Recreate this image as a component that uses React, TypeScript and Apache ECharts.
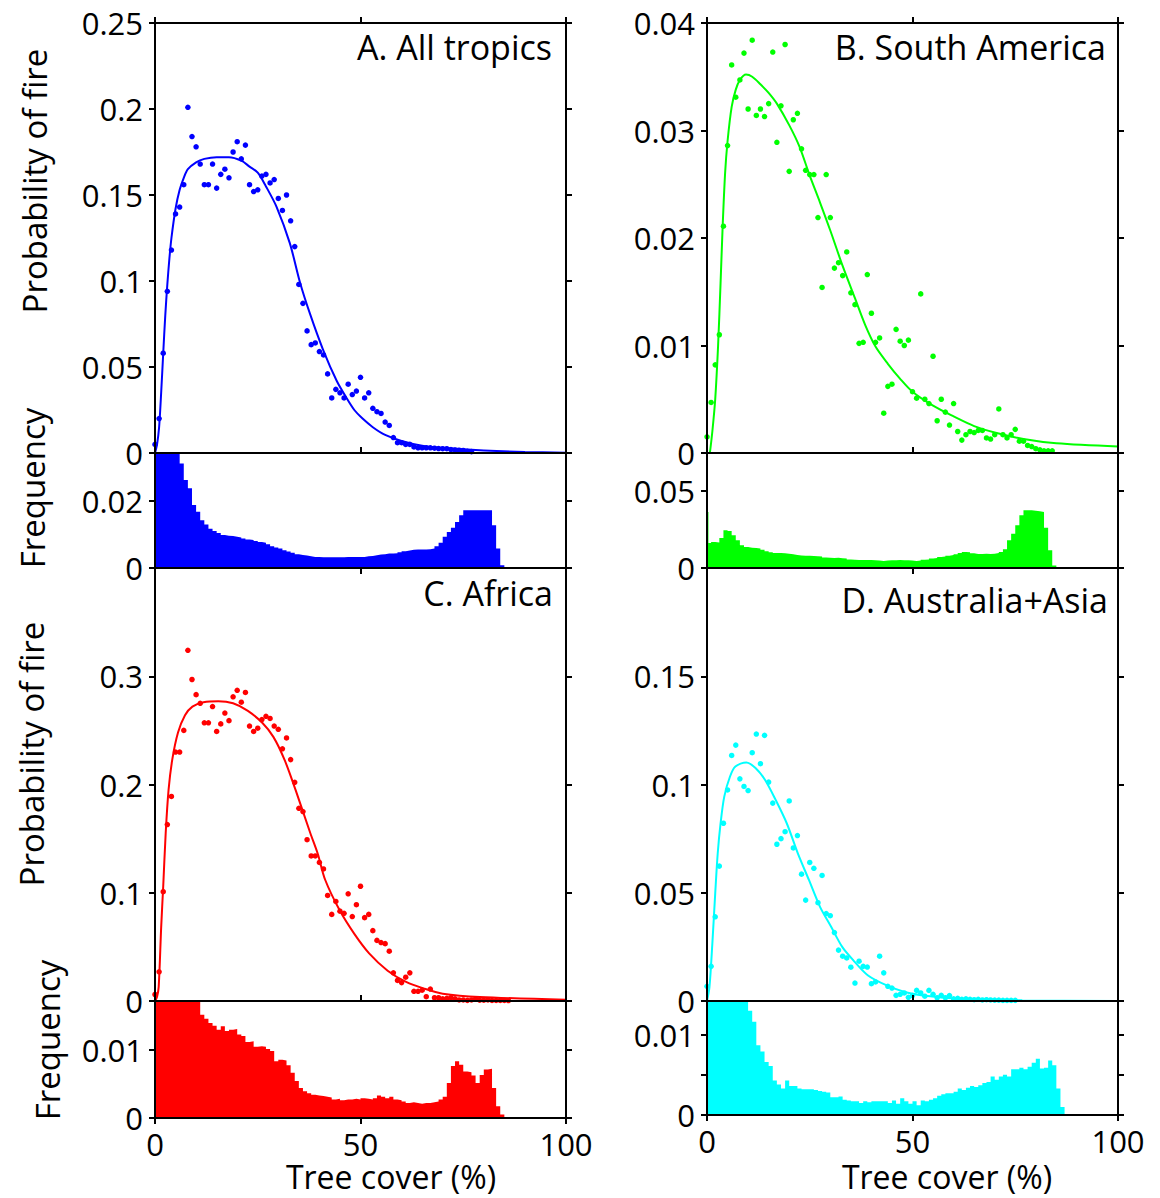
import React, { useEffect, useRef } from 'react';
import * as echarts from 'echarts';

const FONT = '"Open Sans", "Noto Sans", sans-serif';

// ---------- Panel colours ----------
const COLORS = ['#0000ff', '#00ff00', '#ff0000', '#00ffff'];

// ---------- Scatter data: probability of fire at tree cover 0,1,2,... % ----------
const fireA = [
  0.005, 0.020, 0.058, 0.094, 0.118, 0.139, 0.143, 0.156, 0.201, 0.184,
  0.178, 0.168, 0.156, 0.156, 0.168, 0.154, 0.162, 0.165, 0.160, 0.175,
  0.181, 0.171, 0.179, 0.156, 0.152, 0.153, 0.161, 0.162, 0.157, 0.159,
  0.148, 0.141, 0.150, 0.135, 0.120, 0.098, 0.087, 0.071, 0.063, 0.064,
  0.059, 0.057, 0.046, 0.032, 0.037, 0.035, 0.032, 0.040, 0.034, 0.036,
  0.044, 0.032, 0.035, 0.026, 0.024, 0.023, 0.018, 0.016, 0.009, 0.006,
  0.006, 0.005, 0.005, 0.0035, 0.003, 0.003, 0.003, 0.003, 0.0028, 0.0026,
  0.0025, 0.0025, 0.002, 0.0018, 0.0016, 0.0015, 0.001, 0.0008,
];
const fireB = [
  0.0015, 0.0047, 0.0082, 0.011, 0.0211, 0.0286, 0.0361, 0.0331, 0.0347, 0.0372,
  0.032, 0.0384, 0.0314, 0.032, 0.0313, 0.0325, 0.0373, 0.0289, 0.0323, 0.038,
  0.0262, 0.031, 0.0316, 0.0283, 0.0263, 0.0259, 0.0259, 0.0219, 0.0154, 0.0259,
  0.0219, 0.0172, 0.0177, 0.0165, 0.0187, 0.0149, 0.0138, 0.0102, 0.0103, 0.0166,
  0.013, 0.0103, 0.0107, 0.0037, 0.0062, 0.0064, 0.0115, 0.0104, 0.01, 0.0105,
  0.0057, 0.0051, 0.0148, 0.005, 0.0046, 0.009, 0.003, 0.005, 0.0038, 0.0026,
  0.0046, 0.002, 0.0012, 0.0017, 0.002, 0.0019, 0.0021, 0.0021, 0.0014, 0.0013,
  0.0017, 0.0041, 0.0017, 0.0014, 0.0017, 0.0022, 0.0011, 0.0011, 0.0007, 0.0006,
  0.0004, 0.0003, 0.0002, 0.0002, 0.0002,
];
const fireC = [
  0.006, 0.027, 0.101, 0.163, 0.189, 0.23, 0.23, 0.25, 0.324, 0.297,
  0.283, 0.275, 0.257, 0.257, 0.272, 0.249, 0.256, 0.266, 0.259, 0.281,
  0.287, 0.276, 0.285, 0.254, 0.249, 0.252, 0.26, 0.263, 0.261, 0.254,
  0.251, 0.233, 0.243, 0.223, 0.202, 0.178, 0.175, 0.149, 0.134, 0.134,
  0.128, 0.122, 0.0975, 0.08, 0.092, 0.083, 0.081, 0.099, 0.078, 0.089,
  0.106, 0.077, 0.080, 0.065, 0.056, 0.054, 0.053, 0.046, 0.026, 0.019,
  0.017, 0.022, 0.026, 0.009, 0.009, 0.010, 0.004, 0.011, 0.003, 0.003,
  0.002, 0.0025, 0.003, 0.002, 0.001, 0.001, 0.0006, 0.001, 0.002, 0.0008,
  0.0008, 0.001, 0.0006, 0.0006, 0.0005, 0.0005, 0.0004,
];
const fireD = [
  0.0068, 0.016, 0.0389, 0.0623, 0.0821, 0.0975, 0.1134, 0.1182, 0.1026, 0.0991,
  0.0972, 0.1147, 0.1233, 0.1096, 0.1227, 0.1011, 0.0914, 0.0724, 0.075, 0.0782,
  0.0924, 0.0707, 0.0764, 0.0586, 0.0466, 0.064, 0.0613, 0.0454, 0.058, 0.0404,
  0.0394, 0.0316, 0.0235, 0.0207, 0.0199, 0.0156, 0.0083, 0.0184, 0.016, 0.0157,
  0.008, 0.0088, 0.0207, 0.013, 0.0068, 0.006, 0.0026, 0.0031, 0.0037, 0.0017,
  0.0025, 0.0049, 0.0037, 0.0022, 0.0049, 0.0031, 0.0015, 0.0026, 0.0015, 0.0025,
  0.001, 0.0012, 0.0008, 0.001, 0.0008, 0.0006, 0.0008, 0.0005, 0.0006, 0.0005,
  0.0004, 0.0004, 0.0003, 0.0003, 0.0003, 0.0003,
];

// ---------- Fitted curves: [tree cover, probability] ----------
const curveA = [
  [0, 0], [0.5, 0.005], [1, 0.015], [1.5, 0.035], [2, 0.058], [2.5, 0.08], [3, 0.098],
  [3.5, 0.113], [4, 0.125], [5, 0.142], [6, 0.153], [7, 0.16], [8, 0.165], [10, 0.169],
  [12, 0.171], [15, 0.172], [18, 0.172], [21, 0.17], [23, 0.1665], [25, 0.163], [27, 0.155],
  [29.6, 0.143], [32.8, 0.122], [35.3, 0.099], [37.7, 0.081], [40.9, 0.06], [44.2, 0.042],
  [46.6, 0.032], [48.5, 0.025], [50.5, 0.02], [53, 0.015], [56, 0.0105], [60, 0.007],
  [65, 0.0042], [70, 0.003], [80, 0.0015], [90, 0.0006], [100, 0.0002],
];
const curveB = [
  [0.7, 0], [1.3, 0.002], [2, 0.005], [2.7, 0.01], [3.3, 0.0158], [3.8, 0.021], [4.4, 0.026],
  [5, 0.029], [6, 0.0322], [7, 0.0338], [8, 0.0347], [9.5, 0.0352], [11, 0.035], [13, 0.0343],
  [15, 0.0335], [17, 0.0325], [20, 0.0305], [22.5, 0.0285], [25, 0.0258], [27.5, 0.0233],
  [30, 0.0207], [33, 0.0174], [36, 0.0144], [38.5, 0.0119], [41, 0.0099], [44, 0.0083],
  [47, 0.0069], [50, 0.0057], [55, 0.0044], [60, 0.0034], [65, 0.0025], [70, 0.0019],
  [77, 0.0013], [85, 0.0009], [100, 0.0006],
];
const curveC = [
  [0, 0], [0.5, 0.004], [0.9, 0.013], [1.5, 0.068], [2, 0.106], [2.6, 0.155], [3.3, 0.195],
  [4.2, 0.223], [5.6, 0.248], [7.3, 0.264], [9.1, 0.272], [11.8, 0.276], [15.4, 0.277],
  [19, 0.275], [22.6, 0.268], [26.1, 0.257], [28.8, 0.244], [31.5, 0.223], [34.2, 0.195],
  [37.8, 0.155], [39.6, 0.136], [41.4, 0.112], [44.9, 0.084], [48.5, 0.062], [52.1, 0.044],
  [56.6, 0.028], [61.1, 0.0176], [65.5, 0.0114], [70, 0.0068], [79, 0.0037], [100, 0.0012],
];
const curveD = [
  [0, 0], [0.6, 0.0065], [1.3, 0.0265], [2, 0.0497], [2.6, 0.068], [3.3, 0.082], [4.2, 0.0944],
  [5.6, 0.1037], [6.9, 0.1083], [9.6, 0.1102], [11.8, 0.1076], [14.1, 0.1022], [16.7, 0.0929],
  [19.4, 0.0821], [22.1, 0.0682], [24.8, 0.0559], [27.5, 0.0435], [30.2, 0.0343], [32.9, 0.025],
  [35.6, 0.0188], [39.1, 0.0119], [43.6, 0.0073], [48.1, 0.0042], [54.3, 0.0022], [63.3, 0.0009],
  [76.7, 0.0003], [100, 0],
];

// ---------- Histograms: frequency for 1% tree-cover bins starting at 0 ----------
const histA = [
  0.06, 0.05, 0.045, 0.04, 0.037, 0.035, 0.0311, 0.0262, 0.0237, 0.0187,
  0.0167, 0.0142, 0.0129, 0.0117, 0.011, 0.0104, 0.0098, 0.0096, 0.0095, 0.0093,
  0.0091, 0.0088, 0.0085, 0.0083, 0.008, 0.0077, 0.0075, 0.0071, 0.0065, 0.0061,
  0.0058, 0.0053, 0.0049, 0.0045, 0.0041, 0.0039, 0.0037, 0.0035, 0.0033, 0.0033,
  0.0032, 0.0032, 0.0032, 0.0032, 0.0032, 0.0032, 0.0033, 0.0033, 0.0033, 0.0033,
  0.0033, 0.0035, 0.0036, 0.0038, 0.004, 0.0041, 0.0043, 0.0043, 0.0044, 0.0047,
  0.005, 0.0052, 0.0054, 0.0055, 0.0055, 0.0055, 0.0056, 0.0058, 0.0065, 0.0075,
  0.0093, 0.0107, 0.012, 0.0137, 0.0157, 0.0172, 0.0172, 0.0172, 0.0172, 0.0172,
  0.0172, 0.0172, 0.0127, 0.0058, 0.0008, 0.0003,
];
// South America has a narrow spike (bin width 0.35 %) at zero tree cover
const histBSpike = 0.0364;
const histBSpikeWidth = 0.35;
const histB = [
  0.0162, 0.0169, 0.0165, 0.0195, 0.0245, 0.024, 0.0212, 0.018, 0.0147, 0.0136,
  0.0132, 0.013, 0.0126, 0.0119, 0.0108, 0.0102, 0.0097, 0.0097, 0.0095, 0.0093,
  0.0089, 0.0085, 0.0082, 0.008, 0.008, 0.0078, 0.0076, 0.0074, 0.0069, 0.0067,
  0.0065, 0.0067, 0.0063, 0.0061, 0.0056, 0.0054, 0.0052, 0.0052, 0.0052, 0.0052,
  0.005, 0.0048, 0.0046, 0.0048, 0.005, 0.005, 0.0052, 0.005, 0.005, 0.0048,
  0.0046, 0.0048, 0.0054, 0.0056, 0.0061, 0.0065, 0.0071, 0.0074, 0.008, 0.0084,
  0.0089, 0.0097, 0.0104, 0.0102, 0.0095, 0.0091, 0.0091, 0.0093, 0.0091, 0.0093,
  0.0097, 0.0104, 0.0121, 0.018, 0.0223, 0.0277, 0.0342, 0.0375, 0.0375, 0.0372,
  0.0368, 0.0364, 0.0262, 0.0115, 0.0017, 0.0007,
];
const histC = [
  0.03, 0.028, 0.026, 0.024, 0.022, 0.021, 0.02, 0.019, 0.018, 0.018,
  0.0175, 0.0151, 0.0145, 0.0139, 0.0135, 0.0129, 0.0134, 0.0127, 0.0129, 0.013,
  0.0122, 0.012, 0.0111, 0.0112, 0.0104, 0.0105, 0.0104, 0.0101, 0.0098, 0.0083,
  0.0085, 0.0084, 0.0077, 0.0066, 0.0054, 0.0044, 0.0039, 0.0036, 0.0034, 0.0033,
  0.0032, 0.0031, 0.003, 0.0027, 0.0028, 0.0026, 0.0027, 0.0027, 0.0028, 0.0027,
  0.0029, 0.0028, 0.0027, 0.0029, 0.0033, 0.0031, 0.0029, 0.0031, 0.0027, 0.0026,
  0.0024, 0.0022, 0.0023, 0.0022, 0.0021, 0.0022, 0.0022, 0.0023, 0.0024, 0.0027,
  0.0031, 0.0051, 0.0076, 0.0083, 0.0078, 0.0068, 0.0067, 0.0062, 0.0051, 0.0063,
  0.0071, 0.0072, 0.0044, 0.0017, 0.0005, 0.0001,
];
const histD = [
  0.02, 0.025, 0.022, 0.02, 0.019, 0.018, 0.017, 0.016, 0.0155, 0.015,
  0.013, 0.0116, 0.0087, 0.0079, 0.0066, 0.0061, 0.0043, 0.0038, 0.0033, 0.0043,
  0.0036, 0.0036, 0.0033, 0.0032, 0.0032, 0.0032, 0.0031, 0.003, 0.0029, 0.0028,
  0.0022, 0.0022, 0.0023, 0.0019, 0.0018, 0.0017, 0.0017, 0.0015, 0.0017, 0.0016,
  0.0017, 0.0017, 0.0017, 0.0017, 0.0015, 0.0018, 0.0014, 0.0021, 0.0017, 0.0014,
  0.0017, 0.0012, 0.0018, 0.0017, 0.0019, 0.0021, 0.0024, 0.0026, 0.0027, 0.0027,
  0.0029, 0.0033, 0.0031, 0.0034, 0.0036, 0.0035, 0.0037, 0.004, 0.0041, 0.0048,
  0.0044, 0.0048, 0.005, 0.0048, 0.0057, 0.0057, 0.0059, 0.0057, 0.006, 0.0065,
  0.007, 0.0058, 0.0059, 0.0068, 0.0062, 0.0033, 0.001, 0.0001,
];

// ---------- Axis scales ----------
const xTicks = { min: 0, max: 100, interval: 50 };
const fireMax = [0.25, 0.04, 0.4, 0.2];
const fireStep = [0.05, 0.01, 0.1, 0.05];
const fireShowMax = [true, true, false, false];
const histMax = [0.0342, 0.0747, 0.0171, 0.0142];
const histStep = [0.02, 0.05, 0.01, 0.005];
const histLabelled = [[0, 0.02], [0, 0.05], [0, 0.01], [0, 0.01]];

const panelTitles = ['A. All tropics', 'B. South America', 'C. Africa', 'D. Australia+Asia'];
const yTitleFire = 'Probability of fire';
const yTitleFreq = 'Frequency';
const xTitle = 'Tree cover (%)';

const fires = [fireA, fireB, fireC, fireD];
const curves = [curveA, curveB, curveC, curveD];
const hists = [histA, histB, histC, histD];

// layout (pixels)
const grids = [
  { left: 155, top: 23, width: 411, height: 430 },
  { left: 155, top: 453, width: 411, height: 115 },
  { left: 707, top: 23, width: 411, height: 430 },
  { left: 707, top: 453, width: 411, height: 115 },
  { left: 155, top: 568, width: 411, height: 433 },
  { left: 155, top: 1001, width: 411, height: 117 },
  { left: 707, top: 568, width: 411, height: 433 },
  { left: 707, top: 1001, width: 411, height: 114 },
];

const fmt = (v: number) => String(parseFloat(v.toFixed(4)));

const LINE = { show: true, onZero: false, lineStyle: { color: '#000', width: 2 } };
const TICK = { show: true, length: 6, lineStyle: { color: '#000', width: 2 } };
const LABEL = { color: '#000', fontSize: 30, lineHeight: 30, fontFamily: FONT };

function histToSteps(h: number[], spike?: number, spikeWidth?: number) {
  const d: number[][] = [];
  if (spike !== undefined && spikeWidth !== undefined) {
    d.push([0, spike]);
    d.push([spikeWidth, h[0]]);
    for (let i = 1; i < h.length; i++) d.push([i, h[i]]);
  } else {
    h.forEach((v, i) => d.push([i, v]));
  }
  d.push([h.length, 0]);
  return d;
}

function buildOption() {
  const xAxis: any[] = [];
  const yAxis: any[] = [];
  const series: any[] = [];

  for (let p = 0; p < 4; p++) {
    const gTop = p * 2;
    const gHist = p * 2 + 1;
    const isUpperRow = p < 2;

    // ---- top (fire) plot
    xAxis.push({
      type: 'value', gridIndex: gTop, position: 'bottom', ...xTicks, z: 5,
      axisLine: LINE, axisTick: { ...TICK, inside: true }, axisLabel: { show: false }, splitLine: { show: false },
    });
    xAxis.push({
      type: 'value', gridIndex: gTop, position: 'top', ...xTicks, z: 5,
      axisLine: LINE, axisTick: { ...TICK, show: isUpperRow }, axisLabel: { show: false }, splitLine: { show: false },
    });
    yAxis.push({
      type: 'value', gridIndex: gTop, position: 'left', min: 0, max: fireMax[p], interval: fireStep[p], z: 5,
      axisLine: LINE, axisTick: TICK, splitLine: { show: false },
      axisLabel: { ...LABEL, fontSize: 31, margin: 12, showMaxLabel: fireShowMax[p], formatter: (v: number) => fmt(v) },
    });
    yAxis.push({
      type: 'value', gridIndex: gTop, position: 'right', min: 0, max: fireMax[p], interval: fireStep[p], z: 5,
      axisLine: LINE, axisTick: TICK, splitLine: { show: false }, axisLabel: { show: false },
    });

    // ---- histogram plot
    xAxis.push({
      type: 'value', gridIndex: gHist, position: 'bottom', ...xTicks, z: 5,
      axisLine: LINE, axisTick: TICK, splitLine: { show: false },
      axisLabel: { ...LABEL, fontSize: 31, show: !isUpperRow, margin: 11, formatter: (v: number) => fmt(v) },
    });
    xAxis.push({
      type: 'value', gridIndex: gHist, position: 'top', ...xTicks, z: 5,
      axisLine: LINE, axisTick: { show: false }, axisLabel: { show: false }, splitLine: { show: false },
    });
    const lab = histLabelled[p];
    yAxis.push({
      type: 'value', gridIndex: gHist, position: 'left', min: 0, max: histMax[p], interval: histStep[p], z: 5,
      axisLine: LINE, axisTick: TICK, splitLine: { show: false },
      axisLabel: {
        ...LABEL, fontSize: 31, margin: 12, showMaxLabel: false,
        formatter: (v: number) => (lab.some((l) => Math.abs(l - v) < 1e-9) ? fmt(v) : ''),
      },
    });
    yAxis.push({
      type: 'value', gridIndex: gHist, position: 'right', min: 0, max: histMax[p], interval: histStep[p], z: 5,
      axisLine: LINE, axisTick: TICK, splitLine: { show: false }, axisLabel: { show: false },
    });

    const color = COLORS[p];
    const hData = p === 1 ? histToSteps(hists[p], histBSpike, histBSpikeWidth) : histToSteps(hists[p]);
    series.push({
      type: 'line', xAxisIndex: gHist * 2, yAxisIndex: gHist * 2, data: hData, step: 'end',
      showSymbol: false, symbol: 'none', clip: true,
      lineStyle: { width: 0, color }, areaStyle: { color, opacity: 1 }, z: 2,
    });
    series.push({
      type: 'line', xAxisIndex: gTop * 2, yAxisIndex: gTop * 2, data: curves[p], smooth: 0.3,
      showSymbol: false, symbol: 'none', clip: true, lineStyle: { width: 2, color }, z: 3,
    });
    series.push({
      type: 'scatter', xAxisIndex: gTop * 2, yAxisIndex: gTop * 2,
      data: fires[p].map((v, i) => [i, v]), symbolSize: 5.5, itemStyle: { color, opacity: 1 }, z: 4,
    });
  }

  const txt = (text: string, x: number, y: number, align: string, size: number, rot = 0) => ({
    type: 'text', x, y, rotation: rot, z: 10,
    style: {
      text, fill: '#000', fontSize: size, lineHeight: size, fontFamily: FONT,
      textAlign: align, align, textVerticalAlign: 'middle', verticalAlign: 'middle',
    },
  });

  const graphic = [
    txt(panelTitles[0], 552, 47, 'right', 34),
    txt(panelTitles[1], 1106, 47, 'right', 34),
    txt(panelTitles[2], 553, 593, 'right', 34),
    txt(panelTitles[3], 1108, 600, 'right', 34),
    txt(yTitleFire, 34, 181, 'center', 33, Math.PI / 2),
    txt(yTitleFire, 31, 754, 'center', 33, Math.PI / 2),
    txt(yTitleFreq, 32, 488, 'center', 33, Math.PI / 2),
    txt(yTitleFreq, 47, 1040, 'center', 33, Math.PI / 2),
    txt(xTitle, 391, 1176, 'center', 32),
    txt(xTitle, 947, 1176, 'center', 32),
  ];

  return {
    animation: false,
    backgroundColor: '#fff',
    grid: grids.map((g) => ({ ...g, outerBoundsMode: 'none', containLabel: false })),
    xAxis,
    yAxis,
    series,
    graphic,
  };
}

export default function App() {
  const ref = useRef<HTMLDivElement>(null);
  useEffect(() => {
    document.body.style.margin = '0';
    const chart = echarts.init(ref.current as HTMLDivElement, null, { renderer: 'svg' });
    chart.setOption(buildOption() as any);
    return () => chart.dispose();
  }, []);
  return (
    <div
      ref={ref}
      style={{ position: 'absolute', left: 0, top: 0, width: 1160, height: 1198, background: '#fff' }}
    />
  );
}
